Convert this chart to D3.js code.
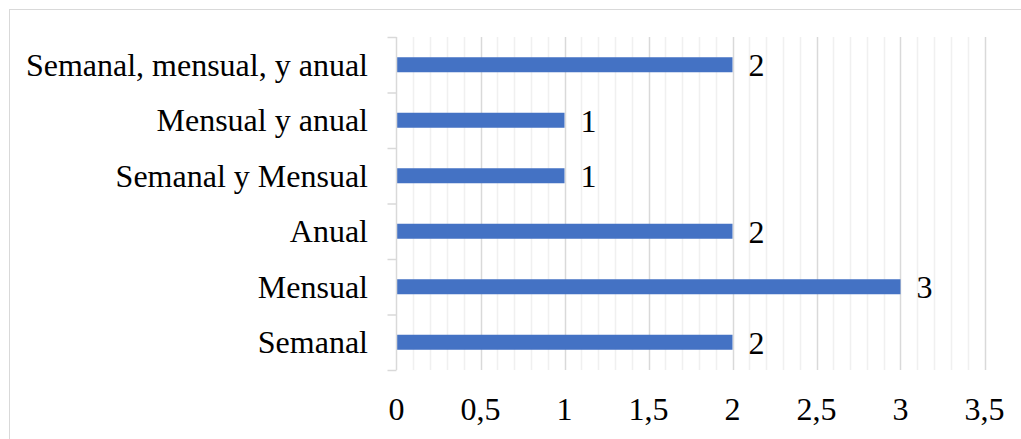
<!DOCTYPE html>
<html>
<head>
<meta charset="utf-8">
<script src="https://cdn.jsdelivr.net/npm/d3@7/dist/d3.min.js"></script>
<style>
  html, body { margin: 0; padding: 0; background: #fff; }
  svg { display: block; }
  text { font-family: "Liberation Serif", "Times New Roman", serif; fill: #000; }
</style>
</head>
<body>
<svg id="chart" width="1021" height="439"></svg>
<script>
// Frequency categories, listed bottom to top
const categories = ["Semanal", "Mensual", "Anual", "Semanal y Mensual", "Mensual y anual", "Semanal, mensual, y anual"];
const counts = [2, 3, 2, 1, 1, 2];
const majorTicks = [0, 0.5, 1, 1.5, 2, 2.5, 3, 3.5];
const minorTicks = d3.range(0, 36).map(i => i / 10);

const svg = d3.select("#chart");
const W = 1021, H = 439;
const plot = { left: 396.5, right: 984.5, top: 37, bottom: 370 };
const fontSize = 32;

// Outer frame (only top and left edges fall inside the canvas)
svg.append("rect")
  .attr("x", 9.5).attr("y", 9.5)
  .attr("width", W + 20).attr("height", H + 20)
  .attr("fill", "none").attr("stroke", "#d9d9d9").attr("stroke-width", 1);

const x = d3.scaleLinear().domain([0, 3.5]).range([plot.left, plot.right]);
const y = d3.scaleBand().domain(categories.slice().reverse())
  .range([plot.top, plot.bottom]).paddingInner(0).paddingOuter(0);

// Minor gridlines every 0.1
svg.append("g").selectAll("line")
  .data(minorTicks.filter(v => Math.abs(v * 2 - Math.round(v * 2)) > 1e-6))
  .join("line")
  .attr("x1", d => Math.round(x(d)) + 0.5).attr("x2", d => Math.round(x(d)) + 0.5)
  .attr("y1", plot.top).attr("y2", plot.bottom)
  .attr("stroke", "#f0f0f0").attr("stroke-width", 1.5);

// Major gridlines every 0.5
svg.append("g").selectAll("line")
  .data(majorTicks.filter(v => v > 0))
  .join("line")
  .attr("x1", d => Math.round(x(d)) + 0.5).attr("x2", d => Math.round(x(d)) + 0.5)
  .attr("y1", plot.top).attr("y2", plot.bottom)
  .attr("stroke", "#d9d9d9").attr("stroke-width", 1.5);

// Bars
const barH = 15;
const rows = categories.map((c, i) => ({ c, v: counts[i] }));
svg.append("g").selectAll("rect")
  .data(rows)
  .join("rect")
  .attr("x", x(0))
  .attr("y", d => y(d.c) + y.bandwidth() / 2 - barH / 2)
  .attr("width", d => x(d.v) - x(0))
  .attr("height", barH)
  .attr("fill", "#4472c4");

// Value labels
svg.append("g").selectAll("text")
  .data(rows)
  .join("text")
  .attr("x", d => x(d.v) + 16)
  .attr("y", d => y(d.c) + y.bandwidth() / 2 + 11.5)
  .attr("font-size", fontSize)
  .text(d => d.v);

// Category axis with ticks at band boundaries
const catAxis = svg.append("g");
catAxis.append("line")
  .attr("x1", plot.left).attr("x2", plot.left)
  .attr("y1", plot.top).attr("y2", plot.bottom)
  .attr("stroke", "#d9d9d9").attr("stroke-width", 1.5);
const bounds = y.domain().map(c => y(c)).concat([plot.bottom]);
catAxis.selectAll("line.tick").data(bounds).join("line")
  .attr("class", "tick")
  .attr("x1", plot.left - 9).attr("x2", plot.left)
  .attr("y1", d => d + 0.5).attr("y2", d => d + 0.5)
  .attr("stroke", "#d9d9d9").attr("stroke-width", 1.5);
catAxis.selectAll("text").data(categories).join("text")
  .attr("x", 368)
  .attr("y", d => y(d) + y.bandwidth() / 2 + 11)
  .attr("text-anchor", "end")
  .attr("font-size", fontSize)
  .text(d => d);

// Value axis labels
const fmt = v => String(v).replace(".", ",");
svg.append("g").selectAll("text").data(majorTicks).join("text")
  .attr("x", d => x(d))
  .attr("y", 420)
  .attr("text-anchor", "middle")
  .attr("font-size", fontSize)
  .text(fmt);
</script>
</body>
</html>
